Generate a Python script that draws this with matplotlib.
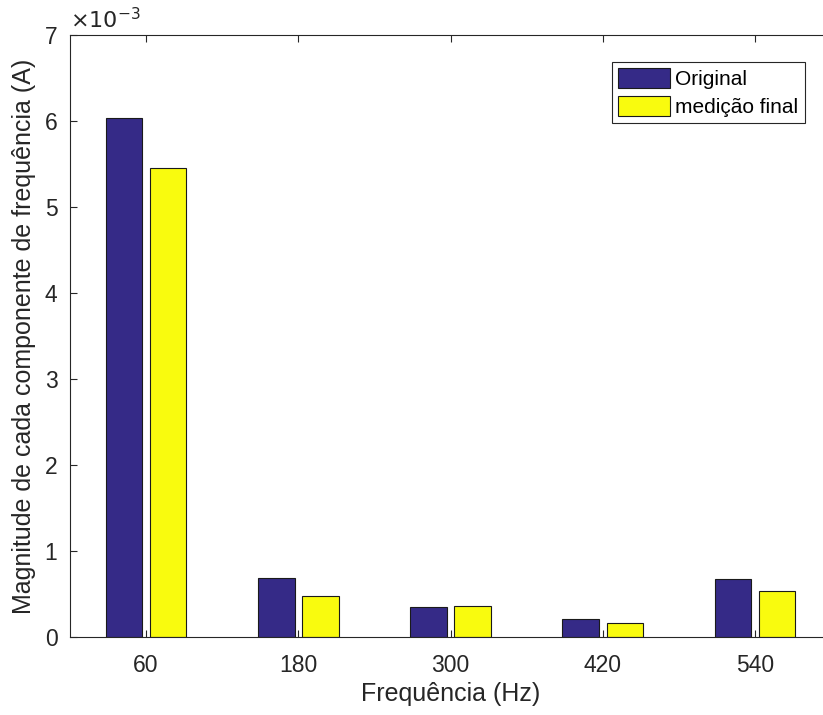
import matplotlib
matplotlib.use("Agg")
import matplotlib.pyplot as plt
import numpy as np

plt.rcParams['font.family'] = ['Liberation Sans', 'DejaVu Sans']

freqs = ['60', '180', '300', '420', '540']
original = [6.03e-3, 0.69e-3, 0.345e-3, 0.213e-3, 0.67e-3]
final = [5.45e-3, 0.48e-3, 0.36e-3, 0.166e-3, 0.54e-3]

fig = plt.figure(figsize=(8.23, 7.15), dpi=100)
ax = fig.add_axes([0.085, 0.109, 0.925, 0.842])

x = np.arange(1, len(freqs) + 1)
w = 0.24
ax.bar(x - 0.145, original, w, color='#352a87', edgecolor='#1a1a1a', linewidth=0.8, label='Original')
ax.bar(x + 0.145, final, w, color='#f9fb0e', edgecolor='#1a1a1a', linewidth=0.8, label='medição final')

ax.set_xlim(0.5, 5.5)
ax.set_ylim(0, 7e-3)
ax.set_xticks(x)
ax.set_xticklabels(freqs)
ax.set_yticks(np.arange(0, 8) * 1e-3)
ax.set_yticklabels([str(i) for i in range(8)])
ax.tick_params(direction='in', length=5, width=0.8, colors='#262626', labelsize=16.5, top=True)
ax.tick_params(axis='x', pad=12)
ax.tick_params(axis='y', pad=9)
for s in ax.spines.values():
    s.set_color('#262626')
    s.set_linewidth(0.8)

ax.set_xlabel('Frequência (Hz)', fontsize=18, color='#262626', labelpad=4)
ax.set_ylabel('Magnitude de cada componente de frequência (A)', fontsize=18, color='#262626', labelpad=6)
ax.text(0.0, 1.003, r'$\times10^{-3}$', transform=ax.transAxes, fontsize=16, color='#262626',
        ha='left', va='bottom')

leg = ax.legend(loc='upper right', bbox_to_anchor=(0.965, 0.955), fontsize=15, fancybox=False,
                edgecolor='#262626', framealpha=1, handlelength=2.5, handleheight=1.05,
                borderpad=0.3, labelspacing=0.35, handletextpad=0.25, borderaxespad=0)
leg.get_frame().set_linewidth(0.8)

fig.savefig('out.png', dpi=100)
